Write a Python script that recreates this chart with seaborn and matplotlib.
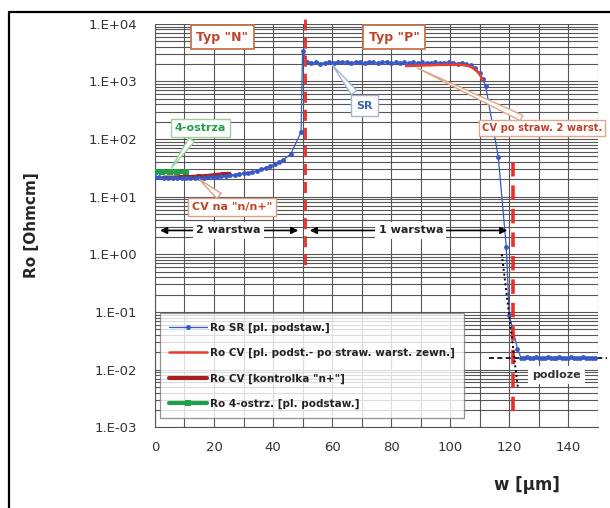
import numpy as np
import pandas as pd
import matplotlib
matplotlib.use("Agg")
import matplotlib.pyplot as plt
import matplotlib.ticker as mtick
import seaborn as sns
from matplotlib.lines import Line2D

# ---- data ----
sr_x = [0, 1.5, 3, 4.5, 6, 7.5, 9, 10.5, 12, 13.5, 15, 16.5, 18, 19.5, 21, 22.5, 24, 25.5,
        27, 28.5, 30, 31.5, 33, 34.5, 36, 37.5, 39, 40.5, 42, 43.5, 46, 49.5, 50,
        51.5, 53, 54.5, 56, 57.5, 59, 60.5, 62, 63.5, 65, 66.5, 68, 69.5, 71, 72.5, 74,
        75.5, 77, 78.5, 80, 81.5, 83, 84.5, 86, 87.5, 89, 90.5, 92, 93.5, 95, 96.5, 98,
        99.5, 101, 102.5, 104, 105.5, 107, 108.5, 110, 111, 112, 116.3, 119, 120, 122.8,
        124, 125, 126, 127, 128, 129, 130, 131, 132, 133, 134, 135, 136, 137, 138, 139,
        140, 141, 142, 143, 144, 145, 146, 147, 148, 149]
sr_y = [22, 22, 21.5, 21.5, 21.5, 21, 21, 21, 21, 21, 21.5, 21.5, 22, 22, 22, 22.5, 23, 23.5,
        24, 25, 25.5, 26, 27, 28, 30, 32, 34, 37, 40, 44, 55, 133, 3400,
        2150, 2100, 2150, 2050, 2100, 2150, 2100, 2150, 2200, 2150, 2100, 2200, 2150, 2100, 2200,
        2150, 2100, 2150, 2200, 2100, 2150, 2100, 2150, 2100, 2150, 2100, 2150, 2100, 2100, 2150,
        2100, 2100, 2150, 2100, 2050, 2100, 2000, 1900, 1700, 1400, 1100, 840, 49, 1.35, 0.09, 0.023,
        0.016, 0.016, 0.0165, 0.016, 0.016, 0.0165, 0.016, 0.016, 0.016, 0.0165, 0.016, 0.016,
        0.016, 0.0165, 0.016, 0.016, 0.016, 0.0165, 0.016, 0.016, 0.016, 0.0165, 0.016, 0.016,
        0.016, 0.016]

cv_x = [85, 88, 91, 94, 97, 100, 103, 105, 107, 108.5, 110, 111]
cv_y = [1850, 1880, 1900, 1920, 1950, 1950, 1950, 1920, 1800, 1600, 1350, 1050]

nplus_x = [3, 6, 9, 12, 15, 18, 21, 23, 25]
nplus_y = [21.5, 21.5, 22, 22, 22.5, 23, 24, 24.5, 25]

four_x = [0, 2.5, 5, 7.5, 10.5]
four_y = [27, 27, 27, 27, 27]

legend_labels = ["Ro SR [pl. podstaw.]",
                 "Ro CV [pl. podst.- po straw. warst. zewn.]",
                 "Ro CV [kontrolka \"n+\"]",
                 "Ro 4-ostrz. [pl. podstaw.]"]

c_sr = "#3858c8"
c_cv = "#f03a2a"
c_nplus = "#a52020"
c_four = "#1fa04a"
c_note = "#c0442c"

sns.set_style("white")
plt.rcParams['font.family'] = ['DejaVu Sans']

fig = plt.figure(figsize=(6.10, 5.08), dpi=100)
ax = fig.add_axes([0.254, 0.159, 0.726, 0.794])
ax.set_yscale("log")

sns.lineplot(x=sr_x, y=sr_y, ax=ax, color=c_sr, lw=0.9, marker="o", markersize=3.5,
             markeredgewidth=0, label=legend_labels[0], zorder=5)
sns.lineplot(x=cv_x, y=cv_y, ax=ax, color=c_cv, lw=1.8, label=legend_labels[1], zorder=6)
sns.lineplot(x=nplus_x, y=nplus_y, ax=ax, color=c_nplus, lw=3, marker="s", markersize=3,
             markeredgewidth=0, label=legend_labels[2], zorder=4)
sns.lineplot(x=four_x, y=four_y, ax=ax, color=c_four, lw=3, marker="s", markersize=4,
             markeredgewidth=0, label=legend_labels[3], zorder=3)

# red dashed borders between layers
ax.plot([50.7, 50.7], [12000, 0.52], ls=(0, (4, 2.5)), color="#e8302a", lw=2, clip_on=False, zorder=7)
ax.plot([121.2, 121.2], [40, 0.0017], ls=(0, (4, 2.5)), color="#e8302a", lw=2.6, zorder=7)
# black guide lines
ax.plot([117.5, 123], [1.0, 0.0045], ls=(0, (1, 1.5)), color="black", lw=1.4, zorder=8)
ax.plot([113, 153], [0.016, 0.016], ls=(0, (3, 2)), color="black", lw=1.2, clip_on=False, zorder=2)

ax.set_xlim(0, 150)
ax.set_ylim(1e-3, 1e4)
ax.set_xticks(np.arange(0, 160, 20))
ax.xaxis.set_minor_locator(mtick.MultipleLocator(10))
ax.yaxis.set_major_locator(mtick.LogLocator(base=10, numticks=20))
ax.yaxis.set_minor_locator(mtick.LogLocator(base=10, subs=np.arange(2, 10), numticks=20))
ax.yaxis.set_minor_formatter(mtick.NullFormatter())
ax.yaxis.set_major_formatter(mtick.FuncFormatter(
    lambda v, p: "1.E%+03d" % int(round(np.log10(v)))))
ax.grid(True, which="both", color="#555555", lw=0.8)
ax.set_axisbelow(True)
for s in ["top", "right"]:
    ax.spines[s].set_visible(False)
for s in ["left", "bottom"]:
    ax.spines[s].set_color("#555555")
ax.tick_params(axis="both", which="both", length=4, direction="inout", color="#555555",
               labelsize=9.5, labelcolor="#333333", pad=11)
ax.tick_params(axis="x", pad=8)

ax.set_ylabel("Ro [Ohmcm]", fontsize=11, fontweight="bold")
ax.yaxis.set_label_coords(-0.262, 0.5)
ax.set_xlabel("w [µm]", fontsize=12, fontweight="bold")
ax.xaxis.set_label_coords(0.84, -0.12)

# boxed labels
ax.text(22.8, 5900, "Typ \"N\"", color=c_note, fontsize=9, fontweight="bold", ha="center", va="center",
        bbox=dict(boxstyle="square,pad=0.45", fc="white", ec="#c8744a", lw=1.3), zorder=10)
ax.text(81.1, 5900, "Typ \"P\"", color=c_note, fontsize=9, fontweight="bold", ha="center", va="center",
        bbox=dict(boxstyle="square,pad=0.45", fc="white", ec="#c8744a", lw=1.3), zorder=10)

ax.annotate("4-ostrza", xy=(5, 29), xytext=(15.3, 155), color=c_four, fontsize=8, fontweight="bold",
            ha="center", va="center",
            bbox=dict(boxstyle="square,pad=0.35", fc="white", ec="#9ccf9c", lw=1),
            arrowprops=dict(arrowstyle="wedge,tail_width=0.6", fc="white", ec="#9ccf9c", lw=1),
            zorder=10)
ax.annotate("CV na \"n/n+\"", xy=(14.3, 21.5), xytext=(26.2, 6.6), color=c_note, fontsize=8,
            fontweight="bold", ha="center", va="center",
            bbox=dict(boxstyle="square,pad=0.35", fc="white", ec="#d8a080", lw=1),
            arrowprops=dict(arrowstyle="wedge,tail_width=0.6", fc="white", ec="#d8a080", lw=1),
            zorder=10)
ax.annotate("SR", xy=(59.5, 2100), xytext=(71, 380), color="#4060b0", fontsize=8,
            fontweight="bold", ha="center", va="center",
            bbox=dict(boxstyle="square,pad=0.5", fc="white", ec="#a8b4d0", lw=1),
            arrowprops=dict(arrowstyle="wedge,tail_width=0.6", fc="white", ec="#a8b4d0", lw=1),
            zorder=10)
ax.annotate("CV po straw. 2 warst.", xy=(88, 1800), xytext=(131.0, 158), color=c_note, fontsize=7.2,
            fontweight="bold", ha="center", va="center", annotation_clip=False,
            bbox=dict(boxstyle="square,pad=0.3", fc="white", ec="#e0a88a", lw=1),
            arrowprops=dict(arrowstyle="wedge,tail_width=0.6", fc="white", ec="#e0a88a", lw=1),
            zorder=10)

# layer thickness arrows
ax.annotate("", xy=(0.8, 2.6), xytext=(49.5, 2.6),
            arrowprops=dict(arrowstyle="<|-|>", color="black", lw=1.2, mutation_scale=10), zorder=9)
ax.text(24.8, 2.6, "2 warstwa", fontsize=8, fontweight="bold", ha="center", va="center", color="#222222",
        bbox=dict(boxstyle="square,pad=0.3", fc="white", ec="none"), zorder=10)
ax.annotate("", xy=(51.5, 2.6), xytext=(120.3, 2.6),
            arrowprops=dict(arrowstyle="<|-|>", color="black", lw=1.2, mutation_scale=10), zorder=9)
ax.text(86.7, 2.6, "1 warstwa", fontsize=8, fontweight="bold", ha="center", va="center", color="#222222",
        bbox=dict(boxstyle="square,pad=0.3", fc="white", ec="none"), zorder=10)
ax.text(136, 0.0081, "podloze", fontsize=8, fontweight="bold", ha="center", va="center", color="#333333",
        bbox=dict(boxstyle="square,pad=0.35", fc="white", ec="none"), zorder=10)

leg = ax.legend(loc="lower left", bbox_to_anchor=(0.011, 0.022), borderaxespad=0,
                fontsize=7.5, frameon=True, fancybox=False, edgecolor="#777777", numpoints=1,
                handlelength=3.6, labelspacing=1.45, borderpad=0.9, handletextpad=0.3)
leg.get_frame().set_linewidth(0.9)
for t in leg.get_texts():
    t.set_fontweight("bold")
    t.set_color("#222222")
leg.set_zorder(11)

# outer frame (only top and left visible in the original)
fig.add_artist(Line2D([0.015, 0.015], [0.0, 0.977], color="black", lw=1.6))
fig.add_artist(Line2D([0.015, 1.0], [0.977, 0.977], color="black", lw=1.6))

fig.savefig("out.png", dpi=100)
